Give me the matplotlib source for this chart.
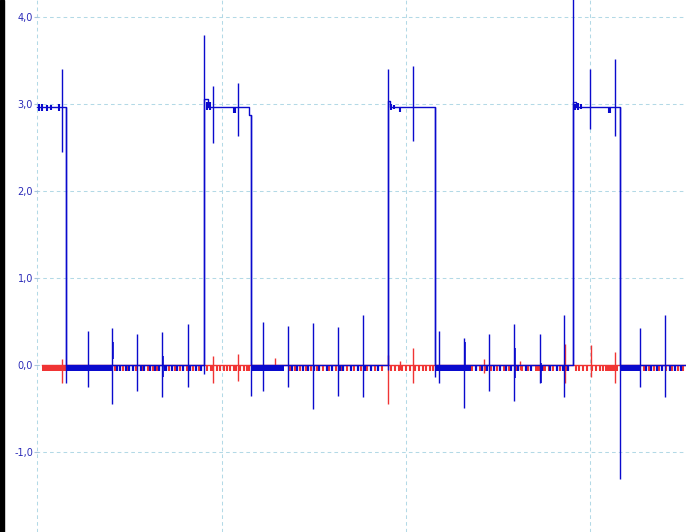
import matplotlib
matplotlib.use("Agg")
import matplotlib.pyplot as plt
from matplotlib.ticker import FuncFormatter

# time axis in ms (grid every 10 ms), values in volts

# square wave of the blue channel: (time, level) with steps-post
wave_t = [0.0, 1.57, 9.05, 9.25, 11.50, 11.60, 19.02, 19.15, 21.57, 29.05, 29.20, 31.60, 35.3]
wave_v = [2.96, 0.0, 3.05, 2.96, 2.87, 0.0, 3.03, 2.96, 0.0, 3.02, 2.96, 0.0, 0.0]

# blue spikes / edge overshoots: time, low end, high end
blue_spk_t = [1.36, 1.57, 2.76, 4.07, 5.42, 6.78, 8.18, 9.05, 9.54, 10.89, 11.60,
              12.25, 13.60, 14.96, 16.31, 17.67, 19.02, 20.38, 21.57, 21.79, 23.14,
              24.50, 25.85, 27.26, 28.56, 29.05, 29.97, 31.33, 31.60, 32.68, 34.04]
blue_spk_lo = [2.45, -0.21, -0.25, -0.44, -0.30, -0.37, -0.25, -0.10, 2.55, 2.63, -0.35,
               -0.30, -0.25, -0.50, -0.35, -0.37, -0.05, 2.57, -0.14, -0.20, -0.49,
               -0.30, -0.41, -0.20, -0.37, 0.00, 2.71, 2.63, -1.31, -0.25, -0.37]
blue_spk_hi = [3.40, 2.96, 0.39, 0.43, 0.36, 0.38, 0.47, 3.79, 3.20, 3.24, 2.87,
               0.50, 0.45, 0.48, 0.44, 0.58, 3.40, 3.44, 2.96, 0.39, 0.31,
               0.36, 0.47, 0.36, 0.58, 4.40, 3.40, 3.52, 2.96, 0.43, 0.58]

# thicker bursts next to some spikes
blue_burst_t = [4.12, 6.83, 23.19, 25.90, 27.31]
blue_burst_lo = [0.07, -0.13, 0.00, -0.15, -0.20]
blue_burst_hi = [0.27, 0.10, 0.27, 0.20, 0.02]

# small dips on the high level
hi_tick_t = [0.10, 0.25, 0.50, 0.75, 1.15, 9.20, 9.35, 10.65, 10.72, 19.20, 19.35, 19.70, 29.15, 29.35, 29.50, 31.00, 31.05]
hi_tick_lo = [2.92, 2.92, 2.92, 2.93, 2.92, 2.93, 2.93, 2.90, 2.90, 2.93, 2.94, 2.91, 2.93, 2.93, 2.94, 2.90, 2.90]
hi_tick_hi = [3.00, 3.00, 2.99, 2.99, 3.00, 3.02, 3.02, 2.96, 2.96, 3.00, 2.99, 2.96, 3.00, 3.01, 3.00, 2.96, 2.96]

# red spikes
red_spk_t = [1.36, 9.54, 10.89, 19.02, 20.38, 24.23, 28.62, 30.03, 31.33, 12.90, 19.67, 26.20]
red_spk_lo = [-0.20, -0.20, -0.18, -0.44, -0.20, -0.09, -0.20, -0.14, -0.20, -0.05, -0.05, -0.05]
red_spk_hi = [0.07, 0.11, 0.13, 0.12, 0.20, 0.07, 0.24, 0.23, 0.15, 0.08, 0.05, 0.05]

# dense parts of the noise band near 0 (start, end)
blue_dense = [(1.60, 4.10), (11.62, 13.40), (21.62, 23.50), (31.62, 32.75)]
red_dense = [(0.27, 1.55), (27.00, 27.60), (30.80, 31.50)]

# sparse noise ticks near 0
blue_ticks = [4.30, 4.50, 4.80, 5.00, 5.20, 5.60, 5.80, 6.10, 6.40, 6.60, 6.90, 7.00, 7.30,
              7.60, 7.90, 8.30, 8.60, 8.90, 13.80, 14.10, 14.40, 14.70, 15.00, 15.30,
              15.70, 16.00, 16.40, 16.60, 17.00, 17.40, 17.80, 18.10, 18.50, 23.80,
              24.10, 24.40, 24.80, 25.10, 25.40, 25.70, 26.10, 26.50, 26.80, 27.40,
              27.80, 28.20, 28.50, 28.80, 33.00, 33.30, 33.60, 33.90, 34.30, 34.60, 34.90]
red_ticks = [4.20, 4.65, 4.90, 5.35, 5.70, 6.00, 6.30, 6.50, 7.15, 7.45, 7.75, 8.10, 8.45,
             8.75, 9.20, 9.40, 9.55, 9.75, 9.90, 10.10, 10.30, 10.45, 10.65, 10.80,
             11.00, 11.20, 11.35, 11.50, 13.70, 14.00, 14.25, 14.55, 14.85, 15.15,
             15.50, 15.85, 16.20, 16.50, 16.80, 17.20, 17.55, 17.90, 18.30, 18.70,
             19.20, 19.40, 19.60, 19.80, 20.00, 20.20, 20.50, 20.70, 20.90, 21.10,
             21.30, 21.45, 23.60, 24.00, 24.30, 24.60, 24.95, 25.30, 25.60, 25.95,
             26.30, 26.60, 27.15, 27.75, 28.00, 28.35, 28.70, 29.20, 29.40, 29.60,
             29.80, 30.10, 30.30, 30.50, 30.70, 32.90, 33.20, 33.45, 33.75, 34.10,
             34.45, 34.75, 35.05]
band_depth = -0.07

yticks = [-1, 0, 1, 2, 3, 4]
xgrid = [0, 10, 20, 30]

BLUE = "#0a0acd"
RED = "#f03434"

fig = plt.figure(figsize=(6.86, 5.32), dpi=100)
ax = fig.add_axes([36.4 / 686, 0, 1 - 36.4 / 686, 1])
ax.set_xlim(-0.05, 35.19)
ax.set_ylim(-1.915, 4.192)

for s in ax.spines.values():
    s.set_visible(False)
ax.set_xticks(xgrid)
ax.set_yticks(yticks)
ax.yaxis.set_major_formatter(FuncFormatter(lambda v, p: "{:.1f}".format(v).replace(".", ",")))
ax.tick_params(axis="x", length=0, labelbottom=False)
ax.tick_params(axis="y", length=3, width=0.8, direction="inout", color="#a8c4dc",
               labelcolor="#2a2ab8", labelsize=7, pad=1)
ax.grid(color="#b3d9e6", linestyle=(0, (3.5, 3)), linewidth=0.75)
ax.set_axisbelow(True)

# red channel
ax.plot([0.27, 35.3], [0, 0], color=RED, lw=1.0, zorder=2)
for a, b in red_dense:
    ax.fill_between([a, b], band_depth, 0, color=RED, lw=0, zorder=2)
ax.vlines(red_ticks, band_depth, 0, color=RED, lw=1.5, zorder=2)
ax.vlines(red_spk_t, red_spk_lo, red_spk_hi, color=RED, lw=1.0, zorder=2)

# blue channel
ax.plot(wave_t, wave_v, drawstyle="steps-post", color=BLUE, lw=1.0, zorder=3)
for a, b in blue_dense:
    ax.fill_between([a, b], band_depth, 0, color=BLUE, lw=0, zorder=3)
ax.vlines(blue_ticks, band_depth, 0, color=BLUE, lw=1.6, zorder=3)
ax.vlines(blue_spk_t, blue_spk_lo, blue_spk_hi, color=BLUE, lw=1.0, zorder=3)
ax.vlines(blue_burst_t, blue_burst_lo, blue_burst_hi, color=BLUE, lw=1.2, zorder=3)
ax.vlines(hi_tick_t, hi_tick_lo, hi_tick_hi, color=BLUE, lw=1.5, zorder=3)

# black edge on the left of the window
fig.patches.append(plt.Rectangle((0, 0), 4 / 686, 1, transform=fig.transFigure,
                                 color="black", zorder=10))

fig.savefig("out.png", dpi=100)
